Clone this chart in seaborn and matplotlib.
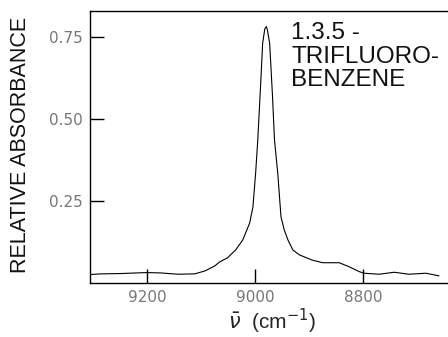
import matplotlib
matplotlib.use("Agg")
import matplotlib.pyplot as plt
import seaborn as sns
import pandas as pd

# Absorption band of 1,3,5-trifluorobenzene (overtone region)
wavenumber = [9306, 9287, 9250, 9202, 9176, 9143, 9112, 9093, 9075, 9066,
              9051, 9036, 9023, 9010, 9004, 8999, 8995, 8989, 8986, 8982,
              8979, 8977, 8973, 8968, 8964, 8958, 8952, 8946, 8939, 8930,
              8918, 8894, 8875, 8844, 8826, 8807, 8798, 8770, 8742, 8715,
              8683, 8659]
absorbance = [0.027, 0.029, 0.030, 0.033, 0.032, 0.028, 0.029, 0.038, 0.053, 0.065,
              0.078, 0.102, 0.132, 0.184, 0.233, 0.336, 0.437, 0.629, 0.731, 0.775,
              0.782, 0.770, 0.731, 0.579, 0.436, 0.336, 0.203, 0.163, 0.132, 0.102,
              0.087, 0.071, 0.063, 0.063, 0.051, 0.036, 0.031, 0.028, 0.034, 0.028,
              0.031, 0.023]

y_ticks = [0.25, 0.50, 0.75]
y_tick_labels = ["0.25", "0.50", "0.75"]
x_ticks = [9200, 9000, 8800]
x_tick_labels = ["9200", "9000", "8800"]

sns.set_style("ticks")
plt.rcParams["font.family"] = ["Liberation Sans", "DejaVu Sans"]

df = pd.DataFrame({"nu": wavenumber, "A": absorbance})

fig = plt.figure(figsize=(4.48, 3.37), dpi=100)
ax = fig.add_axes([0.201, 0.159, 0.797, 0.808])
sns.lineplot(data=df, x="nu", y="A", ax=ax, color="black", linewidth=0.8)

ax.set_xlim(9306, 8644)
ax.set_ylim(0, 0.829)
ax.set_xticks(x_ticks)
ax.set_xticklabels(x_tick_labels)
ax.set_yticks(y_ticks)
ax.set_yticklabels(y_tick_labels)
ax.tick_params(direction="in", length=10, width=1, color="black",
               labelsize=11, labelcolor="#777777", pad=5)
for lbl in ax.get_xticklabels() + ax.get_yticklabels():
    lbl.set_family("DejaVu Sans")
for side in ["left", "bottom", "top"]:
    ax.spines[side].set_linewidth(1)
    ax.spines[side].set_color("black")
ax.spines["right"].set_visible(False)

ax.set_xlabel(r"$\bar{\nu}$  (cm$^{-1}$)", fontsize=15, va="top")
ax.xaxis.set_label_coords(0.51, -0.085)
ax.set_ylabel("RELATIVE ABSORBANCE", fontsize=15.5, color="#111111")
ax.yaxis.set_label_coords(-0.165, 0.51)

ax.text(0.563, 0.96, "1.3.5 -\nTRIFLUORO-\nBENZENE", transform=ax.transAxes,
        ha="left", va="top", fontsize=17.5, linespacing=1.1, color="#111111")

fig.savefig("out.png", dpi=100, facecolor="white")
